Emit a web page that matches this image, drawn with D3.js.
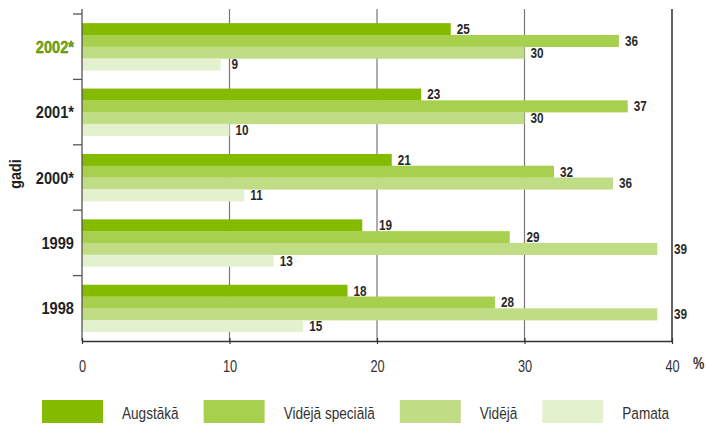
<!DOCTYPE html>
<html>
<head>
<meta charset="utf-8">
<script src="https://cdn.jsdelivr.net/npm/d3@7"></script>
<style>
  html, body { margin: 0; padding: 0; background: #fff; }
  svg { display: block; font-family: "Liberation Sans", Arial, sans-serif; }
</style>
</head>
<body>
<svg id="chart" width="707" height="425"></svg>
<script>
// ---- data ----
const years = ["2002*", "2001*", "2000*", "1999", "1998"];
const seriesNames = ["Augstākā", "Vidējā speciālā", "Vidējā", "Pamata"];
const augstaka       = [25, 23, 21, 19, 18];
const videjaSpeciala = [36.4, 37, 32, 29, 28];
const videja         = [30, 30, 36, 39, 39];
const pamata         = [9.4, 10, 11, 13, 15];
const xTicks = [0, 10, 20, 30, 40];
const colors = ["#84ba00", "#a8d04f", "#c0dd85", "#e4f1cf"];
const yAxisTitle = "gadi";
const unitLabel = "%";

const seriesValues = [augstaka, videjaSpeciala, videja, pamata];
const SX = 0.8; // horizontal condensing of text

// ---- layout ----
const svg = d3.select("#chart");
const x0 = 82, x1 = 672;
const yTop = 14, yBottom = 341;

const x = d3.scaleLinear().domain([0, 40]).range([x0, x1]);
const y = d3.scaleBand().domain(years).range([yTop, yBottom]).paddingInner(0.28).paddingOuter(0.14);
const ySub = d3.scaleBand().domain(seriesNames).range([0, y.bandwidth()]).padding(0);

function place(sel, px, py, sx) {
  sel.attr("transform", `translate(${px},${py}) scale(${sx || SX},1)`);
}

// gridlines
svg.append("g").selectAll("line")
  .data(xTicks.filter(t => t > 0))
  .join("line")
  .attr("x1", d => x(d)).attr("x2", d => x(d))
  .attr("y1", 9).attr("y2", yBottom)
  .attr("stroke", d => d === 40 ? "#222" : "#777")
  .attr("stroke-width", d => d === 40 ? 1.4 : 1.2);

const rows = [];
years.forEach((yr, i) => {
  seriesNames.forEach((s, j) => rows.push({ yr, s, j, v: seriesValues[j][i] }));
});

// bars
svg.append("g").selectAll("rect")
  .data(rows)
  .join("rect")
  .attr("x", x(0))
  .attr("y", d => y(d.yr) + ySub(d.s))
  .attr("width", d => x(d.v) - x(0))
  .attr("height", ySub.bandwidth() + 0.3)
  .attr("fill", d => colors[d.j]);

// value labels
const labels = svg.append("g").selectAll("text")
  .data(rows)
  .join("text")
  .attr("dy", "0.36em")
  .attr("font-size", 14)
  .attr("font-weight", "bold")
  .attr("fill", "#2a2a2a")
  .text(d => Math.round(d.v));
labels.each(function(d) {
  const w = this.getComputedTextLength() * 0.84;
  let lx = x(d.v) + 6;
  xTicks.forEach(t => {
    const gx = x(t);
    if (t > 0 && gx >= lx - 1 && gx <= lx + w) lx = gx + 2;
  });
  place(d3.select(this), lx, y(d.yr) + ySub(d.s) + ySub.bandwidth() / 2, 0.84);
});

// left axis
svg.append("line")
  .attr("x1", x0).attr("x2", x0)
  .attr("y1", 9).attr("y2", yBottom)
  .attr("stroke", "#555").attr("stroke-width", 1.3);
const boundaries = years.map(d => y(d) - y.step() * y.paddingOuter());
svg.append("g").selectAll("line")
  .data(boundaries)
  .join("line")
  .attr("x1", x0 - 9).attr("x2", x0)
  .attr("y1", d => d).attr("y2", d => d)
  .attr("stroke", "#555").attr("stroke-width", 1.3);

// year labels
svg.append("g").selectAll("text")
  .data(years)
  .join("text")
  .attr("dy", "0.36em")
  .attr("text-anchor", "end")
  .attr("font-size", 17)
  .attr("font-weight", "bold")
  .attr("fill", (d, i) => i === 0 ? "#74b000" : "#222")
  .attr("stroke", (d, i) => i === 0 ? "#3f5c00" : "none")
  .attr("stroke-width", 0.35)
  .text(d => d)
  .each(function(d) { place(d3.select(this), x0 - 8, y(d) + y.bandwidth() / 2, 0.86); });

// y title
svg.append("text")
  .attr("text-anchor", "middle")
  .attr("dy", "0.36em")
  .attr("font-size", 17)
  .attr("font-weight", "bold")
  .attr("fill", "#222")
  .text(yAxisTitle)
  .attr("transform", `translate(15,174) rotate(-90) scale(0.84,1)`);

// bottom axis
const xAxis = d3.axisBottom(x).tickValues(xTicks).tickSize(0).tickPadding(0).tickFormat(d3.format("d"));
const ax = svg.append("g").attr("transform", `translate(0,${yBottom})`).call(xAxis);
ax.select(".domain").attr("stroke", "#333").attr("stroke-width", 1.3);
ax.selectAll(".tick line").remove();
ax.selectAll(".tick").append("line")
  .attr("y1", -3).attr("y2", 3)
  .attr("stroke", "#333").attr("stroke-width", 1.2);
ax.selectAll(".tick text")
  .attr("y", null).attr("dy", null)
  .attr("transform", `translate(0,31) scale(${SX},1)`)
  .attr("font-family", "Liberation Sans, Arial, sans-serif")
  .attr("font-size", 16)
  .attr("fill", "#333");

svg.append("text")
  .attr("font-size", 16)
  .attr("font-weight", "bold")
  .attr("fill", "#333")
  .text(unitLabel)
  .call(s => place(s, x(40) + 21, 369));

// legend
const legend = svg.append("g");
let lxPos = 42;
seriesNames.forEach((s, j) => {
  legend.append("rect")
    .attr("x", lxPos).attr("y", 400)
    .attr("width", 61).attr("height", 23)
    .attr("fill", colors[j]);
  const t = legend.append("text")
    .attr("font-size", 17)
    .attr("fill", "#333")
    .text(s);
  place(t, lxPos + 80, 419);
  lxPos = lxPos + 80 + t.node().getComputedTextLength() * SX + 25;
});
</script>
</body>
</html>
